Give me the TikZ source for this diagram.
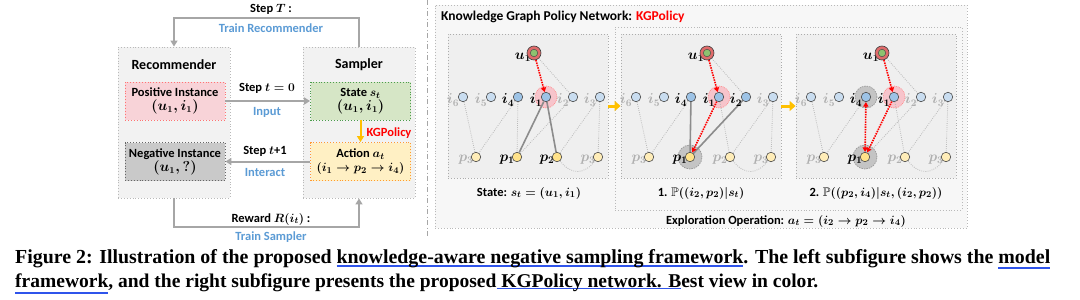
\documentclass[tikz,border=0pt]{standalone}
\usepackage{amsmath,amssymb}
\usepackage{fontspec}
\setmainfont{Carlito}
\newfontfamily\capfont{Liberation Serif}
\usetikzlibrary{arrows.meta}
\pgfdeclarelayer{back}\pgfdeclarelayer{hl}\pgfdeclarelayer{edges}
\pgfsetlayers{back,hl,edges,main}
\definecolor{boxgray}{HTML}{F2F2F2}
\definecolor{outgray}{HTML}{F7F7F7}
\definecolor{pangray}{HTML}{EFEFEF}
\definecolor{pinkfill}{HTML}{F8D3D8}
\definecolor{greenfill}{HTML}{D6E6C6}
\definecolor{grayfill}{HTML}{C9C9C9}
\definecolor{yelfill}{HTML}{FFF0C4}
\definecolor{arrgray}{HTML}{A6A6A6}
\definecolor{gold}{HTML}{FFC000}
\definecolor{lblue}{HTML}{5B9BD5}
\definecolor{iblue}{HTML}{9DC3E6}
\definecolor{ifade}{HTML}{C9DDF0}
\definecolor{pyel}{HTML}{FFE28A}
\definecolor{pfade}{HTML}{FFEDB8}
\definecolor{ured}{HTML}{E06B6B}
\definecolor{ugreen}{HTML}{8DC26F}
\definecolor{lgray}{HTML}{B0B0B0}
\definecolor{hlpinkc}{HTML}{F7C4CB}
\definecolor{hlgrayc}{HTML}{C4C4C4}
\definecolor{ulblue}{HTML}{2F54EB}
\newcommand\bul[2]{\setbox0\hbox{#2}\rlap{\textcolor{ulblue}{\rule[#1]{\wd0}{1.3pt}}}\box0}
\newcommand\mth[1]{{\fontsize{13.5}{15}\selectfont$#1$}}
\newcommand\kgreset{%
  \colorlet{Lu}{black}%
  \colorlet{Li6}{lgray}\colorlet{Li5}{lgray}\colorlet{Li4}{lgray}\colorlet{Li1}{lgray}\colorlet{Li2}{lgray}\colorlet{Li3}{lgray}%
  \colorlet{LpL}{lgray}\colorlet{Lp1}{lgray}\colorlet{Lp2}{lgray}\colorlet{LpR}{lgray}%
  \colorlet{Fi6}{ifade}\colorlet{Fi5}{ifade}\colorlet{Fi4}{ifade}\colorlet{Fi1}{ifade}\colorlet{Fi2}{ifade}\colorlet{Fi3}{ifade}%
  \colorlet{FpL}{pfade}\colorlet{Fp1}{pfade}\colorlet{Fp2}{pfade}\colorlet{FpR}{pfade}}
\newcommand\kgoni[1]{\colorlet{L#1}{black}\colorlet{F#1}{iblue}}
\newcommand\kgonp[1]{\colorlet{L#1}{black}\colorlet{F#1}{pyel}}
\newcommand\kgpanel[2]{%
  \begin{scope}[shift={(#2,0)}]
    \node[glbl,text=Lu] (#1lu) at (75,57) {$u_1$};
    \node[glbl,text=Li6] (#1li6) at (5,100) {$i_6$};
    \node[glbl,text=Li5] (#1li5) at (33,100) {$i_5$};
    \node[glbl,text=Li4] (#1li4) at (60,100) {$i_4$};
    \node[glbl,text=Li1] (#1li1) at (88,100) {$i_1$};
    \node[glbl,text=Li2] (#1li2) at (115,100) {$i_2$};
    \node[glbl,text=Li3] (#1li3) at (142,100) {$i_3$};
    \node[glbl,text=LpL] (#1lpL) at (18,160) {$p_3$};
    \node[glbl,text=Lp1] (#1lp1) at (59,160) {$p_1$};
    \node[glbl,text=Lp2] (#1lp2) at (99,160) {$p_2$};
    \node[glbl,text=LpR] (#1lpR) at (140,160) {$p_3$};
    \node[unode] (#1u) at (86,53) {};
    \node[ucore] (#1uc) at (86,53) {};
    \node[inode,fill=Fi6] (#1i6) at (15,97) {};
    \node[inode,fill=Fi5] (#1i5) at (43,97) {};
    \node[inode,fill=Fi4] (#1i4) at (70,97) {};
    \node[inode,fill=Fi1] (#1i1) at (98,97) {};
    \node[inode,fill=Fi2] (#1i2) at (125,97) {};
    \node[inode,fill=Fi3] (#1i3) at (152,97) {};
    \node[inode,fill=FpL] (#1pL) at (28,157) {};
    \node[inode,fill=Fp1] (#1p1) at (69,157) {};
    \node[inode,fill=Fp2] (#1p2) at (109,157) {};
    \node[inode,fill=FpR] (#1pR) at (150,157) {};
  \end{scope}
  \begin{pgfonlayer}{edges}
    \foreach \s/\t in {u/i2,i6/pL,i4/pL,i3/p2,i3/pR}
      \draw[kgdot] (#1\s) -- (#1\t);
    \draw[kgdot] (#1p2) .. controls +(14,18) and +(-14,18) .. (#1pR);
    \draw[redarr] (#1u) -- (#1i1);
  \end{pgfonlayer}}
\tikzset{
  bigbox/.style={draw=gray!55, dotted, line width=.9pt, fill=boxgray, inner sep=0},
  outbox/.style={draw=gray!55, dotted, line width=.9pt, fill=outgray, inner sep=0},
  panbox/.style={draw=gray!65, dotted, line width=.9pt, fill=pangray, inner sep=0, minimum width=160pt, minimum height=144pt},
  innbox/.style={dotted, line width=.9pt, inner sep=0, minimum width=100pt, minimum height=38pt, align=center,
     font=\fontsize{12.5}{15}\selectfont\bfseries\boldmath},
  posbox/.style={innbox, fill=pinkfill, draw=red!55},
  statebox/.style={innbox, fill=greenfill, draw=green!45!black!70},
  negbox/.style={innbox, fill=grayfill, draw=black!60},
  actbox/.style={innbox, fill=yelfill, draw=orange!80},
  ttl/.style={font=\fontsize{14}{16}\selectfont\bfseries, inner sep=0},
  slbl/.style={font=\fontsize{12.5}{14}\selectfont\bfseries\boldmath, inner sep=0},
  blbl/.style={slbl, text=lblue},
  grayarr/.style={draw=arrgray, line width=2pt, -{Triangle[length=6pt,width=7pt]}},
  orarr/.style={draw=gold, line width=2pt, -{Triangle[length=6pt,width=7pt]}},
  orbig/.style={draw=gold, line width=3pt, -{Triangle[length=6pt,width=10pt]}},
  kgttl/.style={font=\fontsize{13.5}{15}\selectfont\bfseries, inner sep=0},
  capl/.style={font=\fontsize{12.5}{15}\selectfont\bfseries\boldmath, inner sep=0},
  glbl/.style={font=\fontsize{14}{15}\selectfont\bfseries\boldmath, inner sep=0},
  inode/.style={circle, inner sep=0, minimum size=9.5pt, draw=black!70, line width=.6pt},
  unode/.style={circle, inner sep=0, minimum size=14pt, draw=black!75, fill=ured, line width=.6pt},
  ucore/.style={circle, inner sep=0, minimum size=7.5pt, draw=black!70, fill=ugreen, line width=.5pt},
  kgdot/.style={draw=gray!55, line width=.8pt, dash pattern=on .8pt off 1.3pt},
  kgsolid/.style={draw=gray!90, line width=1.6pt},
  redarr/.style={draw=red, line width=1.6pt, dash pattern=on 1.5pt off 1pt, -{Triangle[length=4.5pt,width=5pt]}},
  hlpink/.style={fill=hlpinkc, draw=red!45, line width=.7pt, dash pattern=on .8pt off 1pt},
  hlgray/.style={fill=hlgrayc, draw=gray!80, line width=.7pt, dash pattern=on 1.5pt off 1pt},
}
\begin{document}
\begin{tikzpicture}[x=1pt,y=-1pt]
\useasboundingbox (0,0) rectangle (1080,300);
\begin{pgfonlayer}{back}
  \fill[white] (0,0) rectangle (1080,300);
  \node[bigbox, minimum width=112pt, minimum height=151pt] (rec) at (174,122.5) {};
  \node[bigbox, minimum width=112pt, minimum height=151pt] (samp) at (359,122.5) {};
  \node[outbox, minimum width=532pt, minimum height=223pt] (kgbox) at (701,116.5) {};
  \node[outbox, minimum width=347pt, minimum height=183pt] (expbox) at (788.5,118.5) {};
  \node[panbox] (pan1) at (528,106) {};
  \node[panbox] (pan2) at (701,106) {};
  \node[panbox] (pan3) at (876,106) {};
\end{pgfonlayer}
% ---------------- left framework ----------------
\node[ttl] (rect) at (174,65) {Recommender};
\node[ttl] (sampt) at (359,65) {Sampler};
\node[posbox] (pos) at (175,101) {Positive Instance\\[-1pt]\mth{(u_1,i_1)}};
\node[statebox] (state) at (360.5,101) {State $s_t$\\[-1pt]\mth{(u_1,i_1)}};
\node[negbox] (neg) at (175,161.5) {Negative Instance\\[-1pt]\mth{(u_1,?)}};
\node[actbox] (act) at (360.5,161.5) {Action $a_t$\\[-1pt]$(i_1\rightarrow p_2\rightarrow i_4)$};
\draw[grayarr] (pos) -- (state);
\node[slbl] (s0) at (267,88) {Step $t=0$};
\node[blbl] (inp) at (267,112) {Input};
\draw[grayarr] (act) -- (neg);
\node[slbl] (s1) at (265,151) {Step $t$+1};
\node[blbl] (itr) at (265,172) {Interact};
\draw[orarr] (state) -- (act);
\node[slbl, text=red] (kgp) at (389,133) {KGPolicy};
\draw[grayarr] (samp.north) -- ++(0,-29) -| (rec.north);
\node[slbl] (sT) at (271,9) {Step $T$ :};
\node[blbl] (trR) at (271,28) {Train Recommender};
\draw[grayarr] (rec.south) -- ++(0,29) -| (samp.south);
\node[slbl] (rw) at (271,219) {Reward $R(i_t)$ :};
\node[blbl] (trS) at (271,237) {Train Sampler};
\draw[gray!70, line width=.8pt, dash pattern=on 5pt off 2.5pt on 1pt off 2.5pt] (427,0) -- (427,238);
% ---------------- right: KGPolicy ----------------
\node[kgttl, anchor=west] (kgt) at (441,17) {Knowledge Graph Policy Network: \textcolor{red}{KGPolicy}};
\draw[orbig] (pan1) -- (pan2);
\draw[orbig] (pan2) -- (pan3);
\kgreset\kgoni{i4}\kgoni{i1}\kgonp{p1}\kgonp{p2}
\kgpanel{A}{448}
\kgreset\kgoni{i4}\kgoni{i1}\kgoni{i2}\kgonp{p1}
\kgpanel{B}{621}
\kgreset\kgoni{i4}\kgoni{i1}\kgonp{p1}
\kgpanel{C}{796}
\begin{pgfonlayer}{hl}
  \draw[hlpink] (Ai1) circle (11pt);
  \draw[hlpink] (Bi1) circle (11pt);
  \draw[hlgray] (Bp1) circle (12pt);
  \draw[hlpink] (Ci1) circle (11pt);
  \draw[hlgray] (Ci4) circle (11pt);
  \draw[hlgray] (Cp1) circle (12pt);
\end{pgfonlayer}
\begin{pgfonlayer}{edges}
  \draw[kgdot] (Ai4) -- (Ap1);
  \draw[kgdot] (Ai2) -- (Ap1);
  \draw[kgsolid] (Ai1) -- (Ap1);
  \draw[kgsolid] (Ai1) -- (Ap2);
  \draw[kgdot] (Bi1) -- (Bp2);
  \draw[kgsolid] (Bi4) -- (Bp1);
  \draw[kgsolid] (Bi2) -- (Bp1);
  \draw[redarr] (Bi1) -- (Bp1);
  \draw[kgdot] (Ci1) -- (Cp2);
  \draw[kgdot] (Ci2) -- (Cp1);
  \draw[redarr] (Ci1) -- (Cp1);
  \draw[redarr, {Triangle[length=4.5pt,width=5pt]}-{Triangle[length=4.5pt,width=5pt]}] (Ci4) -- (Cp1);
\end{pgfonlayer}
\node[capl] (c1) at (529,193) {State: $s_t=(u_1,i_1)$};
\node[capl] (c2) at (701,193) {1. $\mathbb{P}((i_2,p_2)|s_t)$};
\node[capl] (c3) at (876,193) {2. $\mathbb{P}((p_2,i_4)|s_t,(i_2,p_2))$};
\node[capl] (c4) at (786,221) {Exploration Operation: $a_t=(i_2\rightarrow p_2\rightarrow i_4)$};
% ---------------- caption ----------------
\node[anchor=base west, inner sep=0] (cap1) at (15,263) {\resizebox{1035pt}{!}{\capfont\bfseries\fontsize{17}{20}\selectfont Figure 2: Illustration of the proposed \bul{-3pt}{knowledge-aware negative sampling framework}. The left subfigure shows the \bul{-5pt}{model}}};
\node[anchor=base west, inner sep=0] (cap2) at (15,287) {\resizebox{803pt}{!}{\capfont\bfseries\fontsize{17}{20}\selectfont \bul{-6pt}{framework}, and the right subfigure presents the proposed\bul{-2pt}{ KGPolicy network. B}est view in color.}};
\end{tikzpicture}
\end{document}
